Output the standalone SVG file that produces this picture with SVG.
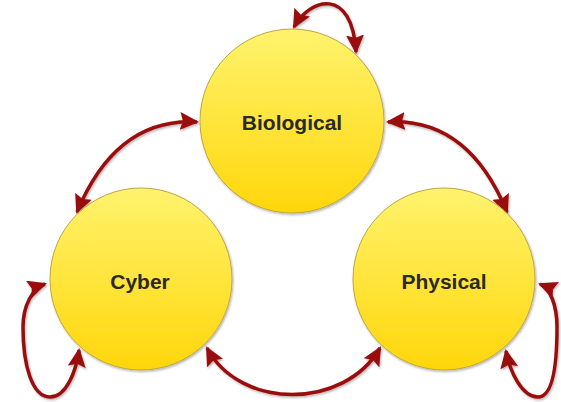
<svg xmlns="http://www.w3.org/2000/svg" width="561" height="402" viewBox="0 0 561 402">
  <defs>
    <linearGradient id="sphereFill" x1="0" y1="0" x2="0" y2="1">
      <stop offset="0" stop-color="#FFF36E"/>
      <stop offset="1" stop-color="#FFD60A"/>
    </linearGradient>
    <filter id="soft" x="-20%" y="-20%" width="140%" height="140%">
      <feDropShadow dx="1" dy="1.5" stdDeviation="1.2" flood-color="#000" flood-opacity="0.3"/>
    </filter>
    <marker id="head" viewBox="0 0 19 18" refX="17" refY="9" markerWidth="19" markerHeight="18" markerUnits="userSpaceOnUse" orient="auto-start-reverse">
      <path d="M0 0 L19 9 L0 18 L3 9 Z" fill="#9A0A0A"/>
    </marker>
  </defs>
  <style>
    .node circle { fill: url(#sphereFill); stroke: #BFA640; stroke-width: 1; filter: url(#soft); }
    .node text { font-family: "Liberation Sans", Arial, sans-serif; font-weight: bold; font-size: 21px; fill: #2A2A2A; text-anchor: middle; }
    .link { fill: none; stroke: #9A0A0A; stroke-width: 3.5; marker-start: url(#head); marker-end: url(#head); }
  </style>

  <g id="connectors" filter="url(#soft)">
    <!-- Biological self loop -->
    <path class="link" d="M294 27 C310 -2, 352 -14, 356 52"/>
    <!-- Biological to Cyber -->
    <path class="link" d="M197 122 Q116.5 117.5, 77 212"/>
    <!-- Biological to Physical -->
    <path class="link" d="M388 122 Q468 117.5, 507 212"/>
    <!-- Cyber to Physical -->
    <path class="link" d="M207 348 C240 410, 344 410, 380 348"/>
    <!-- Cyber self loop -->
    <path class="link" d="M45 284 C33 288, 23 305, 23 327 C23 365, 32 397, 50 397 C66 397, 76 372, 79 350"/>
    <!-- Physical self loop -->
    <path class="link" d="M540 284 C550 288, 557 305, 557 327 C557 365, 553 397, 538 397 C522 397, 510 372, 506 351"/>
  </g>

  <g id="biological" class="node">
    <circle cx="292" cy="121" r="92"/>
    <text x="292" y="130">Biological</text>
  </g>
  <g id="cyber" class="node">
    <circle cx="141" cy="279" r="91"/>
    <text x="140" y="289">Cyber</text>
  </g>
  <g id="physical" class="node">
    <circle cx="444" cy="279" r="91"/>
    <text x="444" y="289">Physical</text>
  </g>
</svg>
